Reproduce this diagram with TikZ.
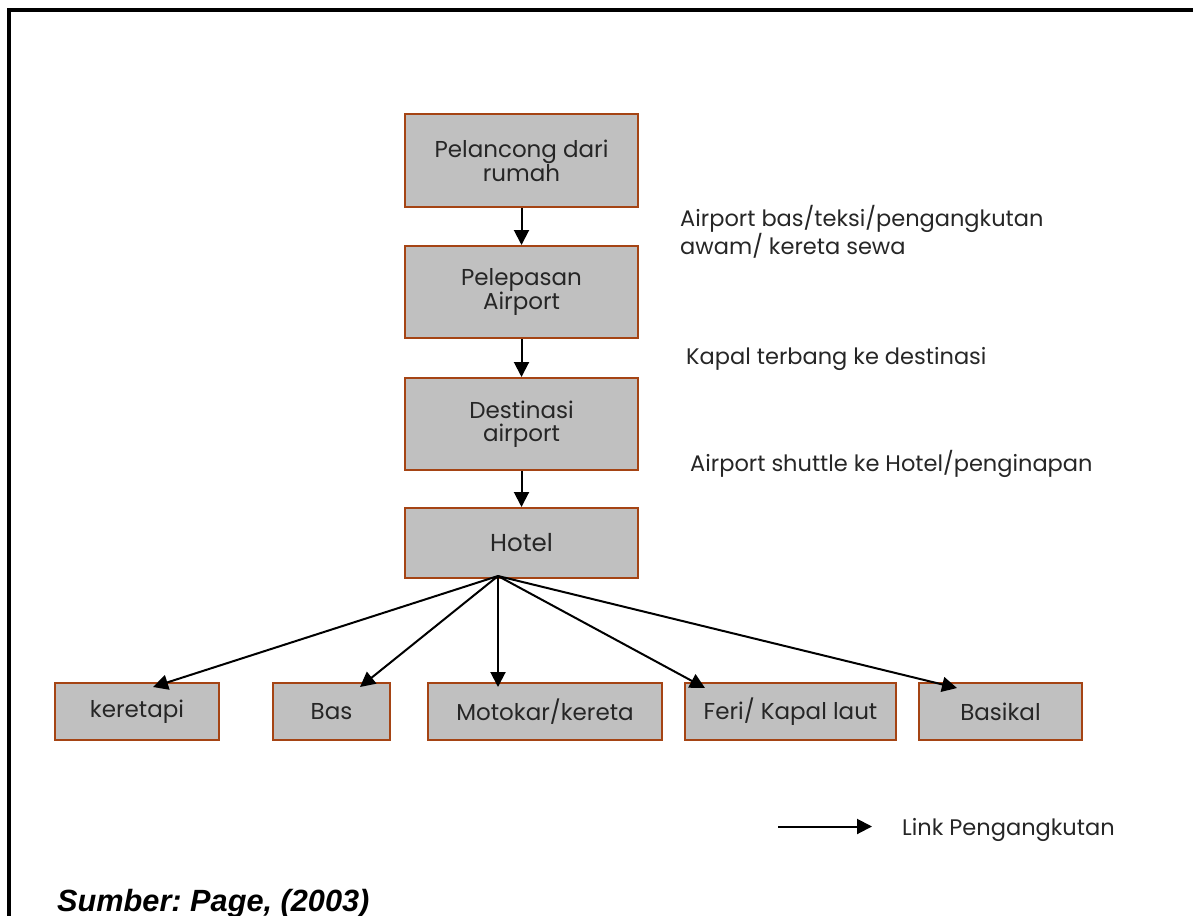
\documentclass[tikz,border=0pt]{standalone}
\usepackage{fontspec}
\setmainfont{Poppins}
\newfontfamily\srcfont{Liberation Sans}
\usetikzlibrary{arrows.meta,positioning,calc}
\definecolor{boxedge}{RGB}{165,68,20}
\definecolor{boxfill}{RGB}{192,192,192}
\frenchspacing
\begin{document}
\begin{tikzpicture}[x=1pt,y=-1pt,
  box/.style={draw=boxedge,fill=boxfill,line width=2pt,rectangle,inner sep=0pt,align=center,
    font=\fontsize{23}{23}\selectfont,text=black!85},
  lab/.style={anchor=west,inner sep=0pt,align=left,font=\fontsize{22.5}{28}\selectfont,text=black!85},
  link/.style={line width=2pt,-{Triangle[length=15pt,width=15pt]}}]
\useasboundingbox (0,0) rectangle (1193,915);
\clip (0,0) rectangle (1193,915);
\draw[line width=4pt] (9,930) -- (9,10) -- (1210,10);
% main column
\node[box,minimum width=233pt,minimum height=93pt] (b1) at (521.5,160.5) {Pelancong dari\\rumah};
\node[box,minimum width=233pt,minimum height=92pt] (b2) at (521.5,292) {Pelepasan\\Airport};
\node[box,minimum width=233pt,minimum height=92pt] (b3) at (521.5,424) {Destinasi\\airport};
\node[box,minimum width=233pt,minimum height=70pt,font=\fontsize{24.5}{26}\selectfont] (b4) at (521.5,543) {Hotel};
% bottom row
\node[box,minimum width=164pt,minimum height=57pt] (ker) at (137,711.5) {keretapi};
\node[box,minimum width=117pt,minimum height=57pt] (bas) at (331.5,711.5) {Bas};
\node[box,minimum width=234pt,minimum height=57pt] (mot) at (545,711.5) {Motokar/kereta};
\node[box,minimum width=211pt,minimum height=57pt] (fer) at (790.5,711.5) {Feri/ Kapal laut};
\node[box,minimum width=163pt,minimum height=57pt] (bsk) at (1000.5,711.5) {Basikal};
% labels
\node[lab] (l1) at (680,232) {Airport bas/teksi/pengangkutan\\awam/ kereta sewa};
\node[lab] (l2) at (686,359) {Kapal terbang ke destinasi};
\node[lab] (l3) at (690,464) {Airport shuttle ke Hotel/penginapan};
% connectors
\draw[link] (b1) -- (b2);
\draw[link] (b2) -- (b3);
\draw[link] (b3) -- (b4);
\coordinate (hub) at (498,576);
\draw[link] (hub) -- ([xshift=16pt,yshift=-5pt]ker.north);
\draw[link] (hub) -- ([xshift=28.5pt,yshift=-5pt]bas.north);
\draw[link] (hub) -- ([xshift=-47pt,yshift=-5pt]mot.north);
\draw[link] (hub) -- ([xshift=-85.5pt,yshift=-6pt]fer.north);
\draw[link] (hub) -- ([xshift=-43.5pt,yshift=-6pt]bsk.north);
% legend
\coordinate (lg1) at (778,826.5);
\coordinate (lg2) at (872,826.5);
\draw[link] (lg1) -- (lg2);
\node[lab,font=\fontsize{22.5}{26}\selectfont] (lgt) at (902,830) {Link Pengangkutan};
% source
\node[anchor=base west,inner sep=0pt,font=\srcfont\bfseries\itshape\fontsize{30.7}{32}\selectfont] (src) at (57,911) {Sumber: Page, (2003)};
\end{tikzpicture}
\end{document}
